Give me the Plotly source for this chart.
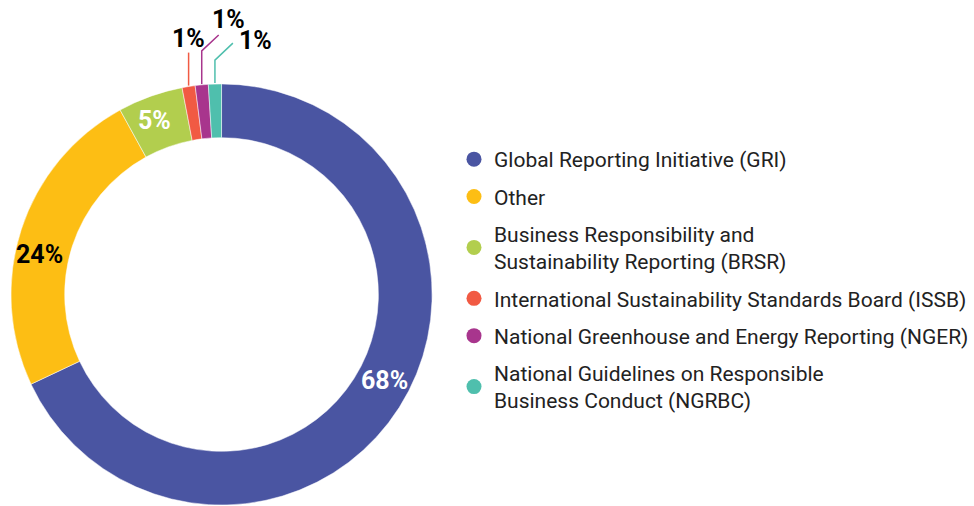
import math
import plotly.graph_objects as go

categories = [
    "Global Reporting Initiative (GRI)",
    "Other",
    "Business Responsibility and<br>Sustainability Reporting (BRSR)",
    "International Sustainability Standards Board (ISSB)",
    "National Greenhouse and Energy Reporting (NGER)",
    "National Guidelines on Responsible<br>Business Conduct (NGRBC)",
]
values = [68, 24, 5, 1, 1, 1]
colors = ["#4A55A2", "#FDBE14", "#B2CE4E", "#F15A43", "#A8358D", "#4FBFAD"]
label_colors = ["white", "black", "white", "black", "black", "black"]
outside = [False, False, False, True, True, True]

W, H = 974, 506
# pie geometry (pixels)
px_left, px_right, px_top = 11, 433, 83
HOLE = 0.745
R = (px_right - px_left) / 2
cx = (px_left + px_right) / 2
cy = px_top + R
r_mid = R * (1 + HOLE) / 2

# inside label nudges (pixels): (dx, dy)
inside_nudge = {0: (8, -12), 1: (-7, 17), 2: (-5, 0)}
# leader-line styling per outside label: (vertical rise, diag dx, diag dy, text dx, text dy)
leader_style = {
    3: (33, 0, 0, 0, -14),
    4: (33, 17, 16, 10, -15),
    5: (23, 18, 17, 23, -3),
}
LABEL_FONT = dict(family="Roboto", size=25, weight="bold")

fig = go.Figure()
fig.add_trace(go.Pie(
    labels=categories,
    values=values,
    sort=False,
    direction="clockwise",
    rotation=0,
    hole=HOLE,
    marker=dict(colors=colors, line=dict(color="white", width=0.5)),
    textinfo="none",
    showlegend=False,
    domain=dict(x=[px_left / W, px_right / W], y=[0, (H - px_top) / H]),
    hoverinfo="label+percent",
))

# legend entries with circle markers
for i, (cat, col) in enumerate(zip(categories, colors)):
    fig.add_trace(go.Scatter(
        x=[None], y=[None], mode="markers",
        marker=dict(color=col, size=15, symbol="circle"),
        name=cat, legendgroup=f"g{i}", showlegend=True,
    ))

total = sum(values)
cum = 0
for i, v in enumerate(values):
    start = cum
    cum += v
    mid = (start + v / 2) / total * 2 * math.pi
    if not outside[i]:
        dx, dy = inside_nudge[i]
        x = cx + r_mid * math.sin(mid) + dx
        y = cy - r_mid * math.cos(mid) + dy
        fig.add_annotation(x=x / W, y=1 - y / H, xref="paper", yref="paper",
                           text=f"{v}%", showarrow=False, xanchor="center", yanchor="middle",
                           font=dict(color=label_colors[i], **LABEL_FONT))
        continue
    x0 = cx + R * math.sin(mid)
    y0 = cy - R * math.cos(mid)
    rise, ddx, ddy, tdx, tdy = leader_style[i]
    x1, y1 = x0, y0 - rise
    x2, y2 = x1 + ddx, y1 - ddy
    path = f"M {x0/W} {1-y0/H} L {x1/W} {1-y1/H} L {x2/W} {1-y2/H}"
    fig.add_shape(type="path", path=path, xref="paper", yref="paper",
                  line=dict(color=colors[i], width=1.5))
    fig.add_annotation(x=(x2 + tdx) / W, y=1 - (y2 + tdy) / H, xref="paper", yref="paper",
                       text=f"{v}%", showarrow=False, xanchor="center", yanchor="middle",
                       font=dict(color=label_colors[i], **LABEL_FONT))

fig.update_layout(
    width=W, height=H,
    margin=dict(l=0, r=0, t=0, b=0),
    paper_bgcolor="white", plot_bgcolor="white",
    xaxis=dict(visible=False), yaxis=dict(visible=False),
    legend=dict(x=455 / W, y=1 - 139 / H, xanchor="left", yanchor="top",
                font=dict(family="Roboto", size=21, color="#222222"),
                tracegroupgap=7, itemsizing="trace"),
    font=dict(family="Roboto"),
)

fig.write_html("out.html")
